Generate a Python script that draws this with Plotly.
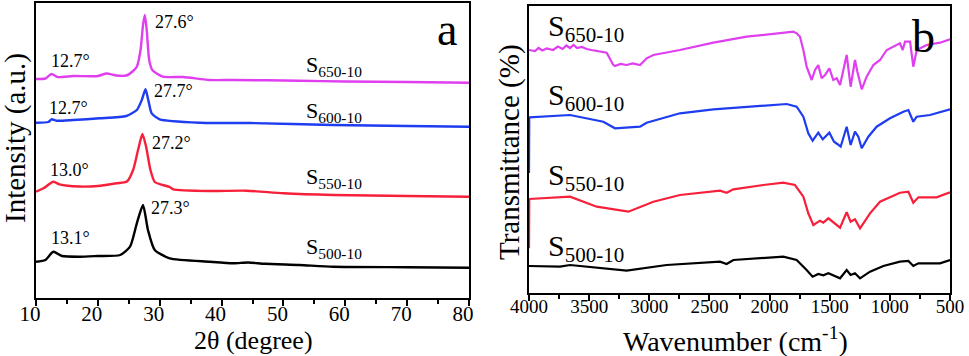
import plotly.graph_objects as go

# ---------------- Panel a : XRD ----------------
xrd_650_x = [10, 11.5, 12.5, 13.5, 16, 20, 21.4, 23, 24.6, 25.7, 26.3, 26.9, 27.3, 27.6, 27.9, 28.3, 28.8, 30.5, 33.8, 38, 42, 52.6, 60, 70, 80]
xrd_650_y = [219, 219.5, 224, 221, 222, 222, 224.5, 222.5, 222.5, 227, 231.3, 248, 273, 283, 268, 238, 228, 221.3, 221, 218, 218, 217.3, 216.5, 216, 215.3]

xrd_600_x = [10, 12.0, 12.5, 13.3, 16, 20.3, 24.6, 26.3, 27.1, 27.7, 28.15, 28.7, 30.0, 36.5, 44.6, 58, 70, 80]
xrd_600_y = [175.3, 176, 178.7, 177.3, 178, 179.7, 182, 188, 198, 208.7, 198, 184.7, 178.7, 175.3, 175, 173, 172, 171.3]

xrd_550_x = [10, 11.2, 12.8, 13.8, 17, 20, 23, 24.7, 25.7, 26.5, 27.2, 27.8, 28.5, 29.2, 30.5, 31.6, 32.2, 38.1, 44, 50, 58, 70, 80]
xrd_550_y = [106.3, 109.7, 116.3, 113.7, 111.5, 112, 114.7, 116.5, 128, 148, 164, 151.3, 128, 116, 113, 111, 108.7, 107, 107.3, 104.7, 103, 102, 101.3]

xrd_500_x = [10, 11.5, 12.8, 14.2, 17.1, 20, 23.6, 25.2, 26.3, 27.3, 28.1, 29.2, 31.6, 38.1, 41.9, 44.3, 47, 52.6, 58, 70, 80]
xrd_500_y = [36.3, 38, 46.3, 42, 41.3, 42, 43, 51.3, 74.7, 93, 68, 48, 39.7, 36.3, 34.7, 35.5, 34.2, 33, 31.3, 30.8, 30.3]

xrd_peaks = ["27.6°", "12.7°", "27.7°", "12.7°", "27.2°", "13.0°", "27.3°", "13.1°"]
xrd_peak_pos_x = [28.9, 12.1, 28.7, 11.8, 28.4, 11.9, 28.3, 12.1]
xrd_peak_pos_y = [276, 237, 207, 190, 155, 128, 90, 60]

# ---------------- Panel b : FTIR ----------------
ir_650_x = [4000, 3950, 3920, 3890, 3853, 3800, 3760, 3720, 3690, 3659, 3630, 3600, 3560, 3520, 3480, 3437, 3382, 3354, 3299, 3285, 3240, 3188, 3140, 3077, 3022, 2966, 2745, 2467, 2190, 1913, 1802, 1775, 1747, 1719, 1692, 1650, 1622, 1595, 1567, 1539, 1503, 1470, 1442, 1414, 1387, 1359, 1326, 1290, 1270, 1234, 1193, 1137, 1082, 1026, 916, 893, 874, 832, 805, 777, 694, 583, 500]
ir_650_y = [243, 242, 245, 242.5, 244.5, 243, 246.5, 244, 247.5, 245, 248, 245, 246, 244, 243, 242.3, 241.3, 240.3, 228, 227, 229, 228, 229.5, 228, 234.7, 238, 243, 250.3, 256.3, 260.3, 261.3, 259.7, 256.3, 243, 226.3, 213, 223, 228, 214.7, 218, 224.7, 213, 214.7, 208, 221.3, 238, 206.3, 233, 221.3, 203.7, 216.3, 228, 233, 243, 249.7, 243, 251.3, 251.3, 226.3, 243, 248, 250.3, 253.7]

ir_600_x = [4000, 3998, 3659, 3382, 3285, 3077, 3022, 2745, 2467, 2190, 1858, 1775, 1719, 1678, 1642, 1595, 1558, 1503, 1464, 1437, 1409, 1359, 1326, 1290, 1262, 1234, 1179, 1110, 999, 888, 846, 805, 777, 666, 500]
ir_600_y = [120, 175.7, 178, 171.3, 164.7, 166.3, 170.3, 179.7, 183.7, 186.3, 189, 186.3, 176.3, 159.7, 152.3, 160.3, 153.7, 160.3, 151.3, 149, 146.3, 166.3, 148, 161.3, 156.3, 144.7, 156.3, 166.3, 174.7, 181.3, 183, 171.3, 176.3, 178, 183.7]

ir_550_x = [4000, 3998, 3659, 3437, 3174, 2966, 2745, 2412, 2357, 2301, 2052, 1886, 1789, 1719, 1678, 1636, 1581, 1553, 1511, 1414, 1359, 1326, 1290, 1248, 1165, 1082, 916, 846, 805, 763, 611, 500]
ir_550_y = [44.7, 94, 96.3, 86.3, 81.3, 91.3, 98, 102.3, 100.3, 103.7, 108, 110.3, 108, 96.3, 79.7, 68, 72.3, 70.3, 74.7, 65.3, 80.7, 71.3, 73.7, 64.7, 79.7, 91.3, 100.3, 101.3, 90.3, 95.7, 95.7, 100.7]

ir_500_x = [4000, 3742, 3659, 3188, 2856, 2412, 2357, 2301, 1886, 1775, 1692, 1642, 1595, 1553, 1511, 1414, 1359, 1326, 1290, 1248, 1165, 1054, 916, 846, 805, 763, 583, 500]
ir_500_y = [27, 26.3, 28, 22.3, 28, 31.3, 29, 33, 36.3, 33, 23, 16.3, 19, 17.7, 19.7, 14.7, 23, 18, 19.7, 14.7, 21.3, 27, 31.3, 32, 27, 29.7, 29.7, 33]

samples = ["650-10", "600-10", "550-10", "500-10"]
colors = ["#DF3FEF", "#1E3CF0", "#F7203A", "#000000"]
xrd_label_y = [232, 186, 120, 50]
ir_label_y = [265, 196, 116, 45]

FONT = "Liberation Serif"

fig = go.Figure()
xrd_x = [xrd_650_x, xrd_600_x, xrd_550_x, xrd_500_x]
xrd_y = [xrd_650_y, xrd_600_y, xrd_550_y, xrd_500_y]
ir_x = [ir_650_x, ir_600_x, ir_550_x, ir_500_x]
ir_y = [ir_650_y, ir_600_y, ir_550_y, ir_500_y]
for i in range(4):
    fig.add_trace(go.Scatter(x=xrd_x[i], y=xrd_y[i], mode="lines",
                             line=dict(color=colors[i], width=2.4, shape="spline", smoothing=0.6),
                             xaxis="x", yaxis="y", showlegend=False))
    fig.add_trace(go.Scatter(x=ir_x[i], y=ir_y[i], mode="lines",
                             line=dict(color=colors[i], width=2.2),
                             xaxis="x2", yaxis="y2", showlegend=False))

W, H = 969, 356
def px(x):
    return x / W
def py(y):
    return 1 - y / H

ax_common = dict(showline=True, linecolor="black", linewidth=2, mirror=True,
                 showgrid=False, zeroline=False, automargin=False)

fig.update_layout(
    width=W, height=H, margin=dict(l=0, r=0, t=0, b=0, autoexpand=False),
    paper_bgcolor="white", plot_bgcolor="white",
    font=dict(family=FONT, color="black"),
    xaxis=dict(domain=[px(36), px(469)], range=[10, 80], anchor="y",
               ticks="outside", ticklen=6, tickwidth=1.5, tickcolor="black",
               tickvals=[10, 20, 30, 40, 50, 60, 70, 80],
               ticklabelstandoff=-10, ticklabelshift=-6,
               minor=dict(tickvals=[15, 25, 35, 45, 55, 65, 75], ticklen=4, tickcolor="black", ticks="outside", tickwidth=1.5),
               tickfont=dict(size=21, family=FONT), **ax_common),
    yaxis=dict(domain=[py(298), py(3)], range=[0, 295], anchor="x",
               showticklabels=False, ticks="", **ax_common),
    xaxis2=dict(domain=[px(529), px(950)], range=[4000, 500], anchor="y2",
                ticks="outside", ticklen=6, tickwidth=1.5, tickcolor="black",
                tickvals=[4000, 3500, 3000, 2500, 2000, 1500, 1000, 500],
                ticklabelstandoff=-11,
                minor=dict(tickvals=[3750, 3250, 2750, 2250, 1750, 1250, 750], ticklen=4, tickcolor="black", ticks="outside", tickwidth=1.5),
                tickfont=dict(size=19, family=FONT), **ax_common),
    yaxis2=dict(domain=[py(293), py(6)], range=[0, 287], anchor="x2",
                showticklabels=False, ticks="", layer="below traces", **ax_common),
)

ann = []
for t, x, y in zip(xrd_peaks, xrd_peak_pos_x, xrd_peak_pos_y):
    ann.append(dict(x=x, y=y, xref="x", yref="y", text=t, showarrow=False,
                    xanchor="left", yanchor="middle", font=dict(size=18, family=FONT)))
for s, y in zip(samples, xrd_label_y):
    ann.append(dict(x=53.3, y=y, xref="x", yref="y", text="S<sub>" + s + "</sub>", showarrow=False,
                    xanchor="left", yanchor="middle", font=dict(size=22, family=FONT)))
for s, y in zip(samples, ir_label_y):
    ann.append(dict(x=3860, y=y, xref="x2", yref="y2", text="S<sub>" + s + "</sub>", showarrow=False,
                    xanchor="left", yanchor="middle", font=dict(size=30, family=FONT)))

ann += [
    dict(x=px(447), y=py(29), xref="paper", yref="paper", text="a", showarrow=False,
         xanchor="center", yanchor="middle", font=dict(size=46, family=FONT)),
    dict(x=px(923), y=py(36), xref="paper", yref="paper", text="b", showarrow=False,
         xanchor="center", yanchor="middle", font=dict(size=46, family=FONT)),
    dict(x=px(16), y=py(138), xref="paper", yref="paper", text="Intensity (a.u.)", showarrow=False,
         textangle=-90, xanchor="center", yanchor="middle", font=dict(size=29, family=FONT)),
    dict(x=px(510), y=py(152), xref="paper", yref="paper", text="Transmittance (%)", showarrow=False,
         textangle=-90, xanchor="center", yanchor="middle", font=dict(size=29, family=FONT)),
    dict(x=px(253), y=py(340), xref="paper", yref="paper", text="2θ (degree)", showarrow=False,
         xanchor="center", yanchor="middle", font=dict(size=26, family=FONT)),
    dict(x=px(735), y=py(339), xref="paper", yref="paper", text="Wavenumber (cm<sup>-1</sup>)", showarrow=False,
         xanchor="center", yanchor="middle", font=dict(size=28, family=FONT)),
]
fig.update_layout(annotations=ann)

fig.write_html("out.html", config={"displayModeBar": False},
               post_script="document.body.style.margin='0';document.body.style.overflow='hidden';")
